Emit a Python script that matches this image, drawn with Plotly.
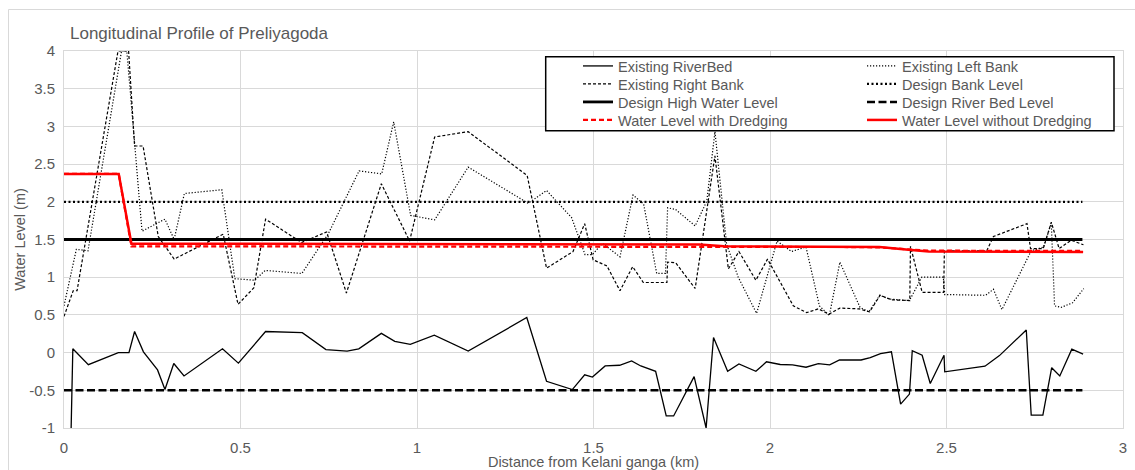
import plotly.graph_objects as go

FONT = "Liberation Sans, Arial, sans-serif"
GREY_TEXT = "#595959"

# ---------------- data ----------------
riverbed_km = [0.02, 0.025, 0.069, 0.154, 0.184, 0.200, 0.225, 0.265, 0.286, 0.311,
               0.340, 0.449, 0.494, 0.571, 0.675, 0.742, 0.802, 0.835, 0.899, 0.937,
               0.981, 1.049, 1.145, 1.311, 1.367, 1.440, 1.475, 1.497, 1.533, 1.574,
               1.608, 1.634, 1.676, 1.706, 1.727, 1.785, 1.819, 1.840, 1.880, 1.912,
               1.960, 1.990, 2.029, 2.064, 2.102, 2.137, 2.169, 2.197, 2.258, 2.284,
               2.313, 2.344, 2.370, 2.395, 2.403, 2.431, 2.454, 2.493, 2.495, 2.609,
               2.650, 2.726, 2.740, 2.773, 2.798, 2.821, 2.855, 2.887]
riverbed_level = [-1.05, 0.05, -0.16, 0.0, 0.0, 0.28, 0.01, -0.23, -0.49, -0.145,
                  -0.31, 0.05, -0.14, 0.28, 0.265, 0.04, 0.02, 0.05, 0.255, 0.15,
                  0.11, 0.23, 0.02, 0.465, -0.38, -0.49, -0.295, -0.325, -0.177, -0.168,
                  -0.11, -0.177, -0.248, -0.84, -0.84, -0.318, -1.0, 0.2, -0.248, -0.15,
                  -0.248, -0.122, -0.158, -0.162, -0.194, -0.146, -0.163, -0.098, -0.098, -0.066,
                  -0.013, 0.01, -0.683, -0.55, 0.025, -0.035, -0.41, -0.035, -0.255, -0.18,
                  -0.04, 0.30, -0.83, -0.83, -0.2, -0.31, 0.045, -0.02]

left_bank_km = [0.0, 0.035, 0.068, 0.163, 0.178, 0.221, 0.286, 0.312, 0.341, 0.447,
                0.484, 0.540, 0.570, 0.674, 0.748, 0.836, 0.900, 0.934, 0.982, 1.050,
                1.145, 1.315, 1.367, 1.438, 1.476, 1.497, 1.525, 1.575, 1.612, 1.642,
                1.679, 1.704, 1.710, 1.732, 1.788, 1.821, 1.844, 1.877, 1.910, 1.962,
                2.020, 2.061, 2.102, 2.140, 2.168, 2.198, 2.255, 2.280, 2.311, 2.338,
                2.395, 2.430, 2.491, 2.495, 2.611, 2.633, 2.657, 2.740, 2.775, 2.797,
                2.806, 2.825, 2.857, 2.889]
left_bank_level = [0.62, 1.37, 1.35, 4.0, 4.0, 1.61, 1.77, 1.50, 2.11, 2.16,
                   0.98, 0.96, 1.09, 1.05, 1.57, 2.41, 2.37, 3.06, 1.82, 1.76,
                   2.46, 1.98, 2.15, 1.79, 1.30, 1.30, 1.45, 1.27, 2.09, 1.97,
                   1.05, 1.05, 1.92, 1.90, 1.68, 2.01, 2.93, 1.44, 1.00, 0.52,
                   1.48, 1.34, 1.40, 0.62, 0.49, 1.20, 0.60, 0.54, 0.76, 0.71,
                   0.69, 1.00, 1.00, 0.77, 0.76, 0.84, 0.57, 1.35, 1.40, 1.72,
                   0.62, 0.60, 0.66, 0.85]

right_bank_km = [0.0, 0.026, 0.037, 0.153, 0.183, 0.200, 0.224, 0.267, 0.312, 0.451,
                 0.493, 0.538, 0.571, 0.673, 0.744, 0.800, 0.899, 0.979, 1.050, 1.145,
                 1.312, 1.367, 1.442, 1.475, 1.499, 1.538, 1.575, 1.611, 1.641, 1.708,
                 1.710, 1.733, 1.788, 1.844, 1.882, 1.912, 1.960, 1.993, 2.066, 2.104,
                 2.137, 2.167, 2.198, 2.253, 2.282, 2.312, 2.345, 2.396, 2.398, 2.431,
                 2.492, 2.494, 2.614, 2.633, 2.728, 2.738, 2.774, 2.797, 2.819, 2.853,
                 2.888]
right_bank_level = [0.48, 0.82, 0.82, 4.0, 4.0, 2.74, 2.74, 1.54, 1.24, 1.57,
                    0.64, 0.86, 1.77, 1.46, 1.60, 0.79, 2.24, 1.48, 2.86, 2.93,
                    2.35, 1.12, 1.34, 1.71, 1.23, 1.15, 0.82, 1.14, 0.93, 0.93,
                    1.20, 1.19, 0.85, 2.61, 1.11, 1.34, 0.96, 1.24, 0.62, 0.53,
                    0.58, 0.51, 0.59, 0.58, 0.54, 0.76, 0.70, 0.69, 1.41, 0.80,
                    0.80, 1.35, 1.35, 1.54, 1.71, 1.38, 1.38, 1.73, 1.38, 1.49,
                    1.43]

design_km = [0.0, 2.885]
design_bank_level = [2.0, 2.0]
design_high_water_level = [1.5, 1.5]
design_river_bed_level = [-0.5, -0.5]

water_km = [0.0, 0.155, 0.191, 1.80, 1.87, 2.25, 2.31, 2.40, 2.45, 2.887]
water_with_dredging = [2.37, 2.37, 1.41, 1.41, 1.405, 1.40, 1.395, 1.365, 1.352, 1.348]
water_without_dredging = [2.37, 2.37, 1.445, 1.435, 1.41, 1.405, 1.40, 1.36, 1.342, 1.335]

x_tick_vals = [0, 0.5, 1, 1.5, 2, 2.5, 3]
x_tick_text = ["0", "0.5", "1", "1.5", "2", "2.5", "3"]
y_tick_vals = [-1, -0.5, 0, 0.5, 1, 1.5, 2, 2.5, 3, 3.5, 4]
y_tick_text = ["-1", "-0.5", "0", "0.5", "1", "1.5", "2", "2.5", "3", "3.5", "4"]

# ---------------- layout geometry (pixels) ----------------
W, H = 1135, 470
ML, MR, MT, MB = 64, 12, 51, 42
PW, PH = W - ML - MR, H - MT - MB


def px_x(px):
    return (px - ML) / PW


def px_y(py):
    return (H - MB - py) / PH


series = [
    ("Existing RiverBed", riverbed_km, riverbed_level, "black", 1.3, "solid", "legend", 0, 0),
    ("Existing Left Bank", left_bank_km, left_bank_level, "black", 1.2, "1.2px,1.8px", "legend2", 1, 0),
    ("Existing Right Bank", right_bank_km, right_bank_level, "black", 1.2, "3px,2px", "legend3", 0, 1),
    ("Design Bank Level", design_km, design_bank_level, "black", 2.2, "2px,2.5px", "legend4", 1, 1),
    ("Design High Water Level", design_km, design_high_water_level, "black", 2.8, "solid", "legend5", 0, 2),
    ("Design River Bed Level", design_km, design_river_bed_level, "black", 2.6, "8px,3.5px", "legend6", 1, 2),
    ("Water Level with Dredging", water_km, water_with_dredging, "#FF0000", 2.2, "5px,3px", "legend7", 0, 3),
    ("Water Level without Dredging", water_km, water_without_dredging, "#FF0000", 2.5, "solid", "legend8", 1, 3),
]

fig = go.Figure()
legend_layouts = {}
col_text_px = [618, 902]
row_center_px = [66, 84, 102, 120]
for name, xs, ys, color, width, dash, leg, col, row in series:
    fig.add_trace(go.Scatter(
        x=xs, y=ys, mode="lines", name=name, legend=leg,
        line=dict(color=color, width=width, dash=dash),
        hoverinfo="x+y+name",
    ))
    legend_layouts[leg] = dict(
        x=px_x(col_text_px[col] - 40), y=px_y(row_center_px[row]),
        xanchor="left", yanchor="middle",
        bgcolor="rgba(0,0,0,0)", borderwidth=0,
        font=dict(family=FONT, size=14.5, color=GREY_TEXT),
    )

axis_common = dict(
    showgrid=True, gridcolor="#d9d9d9", gridwidth=1,
    zeroline=False, showline=True, linecolor="#d9d9d9", linewidth=1, mirror=True,
    ticks="", tickfont=dict(family=FONT, size=15, color=GREY_TEXT),
    tickmode="array",
)

fig.update_layout(
    width=W, height=H,
    margin=dict(l=ML, r=MR, t=MT, b=MB, autoexpand=False),
    paper_bgcolor="white", plot_bgcolor="white",
    font=dict(family=FONT, color=GREY_TEXT),
    title=dict(text="Longitudinal Profile of Preliyagoda",
               font=dict(family=FONT, size=17, color=GREY_TEXT),
               xref="paper", x=px_x(70), xanchor="left",
               yref="container", y=1 - 33 / H, yanchor="middle"),
    xaxis=dict(axis_common, range=[0, 3], tickvals=x_tick_vals, ticktext=x_tick_text,
               ticklabelstandoff=6,
               title=dict(text="Distance from Kelani ganga (km)",
                          font=dict(family=FONT, size=14.5, color=GREY_TEXT), standoff=2)),
    yaxis=dict(axis_common, range=[-1, 4], tickvals=y_tick_vals, ticktext=y_tick_text,
               ticklabelstandoff=5,
               title=dict(text="Water Level (m)",
                          font=dict(family=FONT, size=14.5, color=GREY_TEXT), standoff=0)),
    showlegend=True,
    shapes=[
        # outer chart border
        dict(type="rect", xref="paper", yref="paper",
             x0=px_x(8.5), x1=px_x(1140), y0=px_y(480), y1=px_y(9.5),
             line=dict(color="#d9d9d9", width=1), fillcolor="rgba(0,0,0,0)", layer="below"),
        # legend box
        dict(type="rect", xref="paper", yref="paper",
             x0=px_x(545.7), x1=px_x(1114), y0=px_y(130.7), y1=px_y(56.7),
             line=dict(color="black", width=1.5), fillcolor="white", layer="above"),
    ],
    **legend_layouts,
)

fig.write_html("out.html")
